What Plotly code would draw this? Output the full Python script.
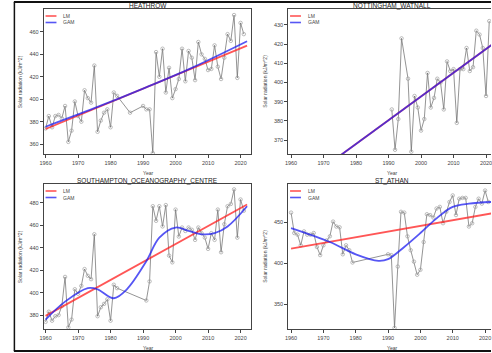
import plotly.graph_objects as go

W, H = 492, 353

# ---------------- data ----------------
heathrow_years = [1960, 1961, 1962, 1963, 1964, 1965, 1966, 1967, 1968, 1969, 1970, 1971, 1972, 1973,
                  1974, 1975, 1976, 1977, 1978, 1979, 1980, 1981, 1982, 1986, 1990, 1991, 1992, 1993,
                  1994, 1995, 1996, 1997, 1998, 1999, 2000, 2001, 2002, 2003, 2004, 2005, 2006, 2007,
                  2008, 2009, 2010, 2011, 2012, 2013, 2014, 2015, 2016, 2017, 2018, 2019, 2020, 2021]
heathrow_vals = [374, 385, 375, 385, 386, 383, 394, 362, 372, 398, 385, 380, 408, 401,
                 397, 430, 371, 381, 388, 391, 375, 406, 403, 388, 394, 391, 391, 352,
                 442, 420, 445, 406, 428, 401, 409, 418, 445, 416, 443, 437, 417, 451,
                 440, 436, 426, 427, 448, 429, 418, 437, 458, 452, 475, 419, 468, 458]
heathrow_lm_years = [1960, 2022]
heathrow_lm_vals = [373.5, 447.8]
heathrow_gam_years = [1960, 1975, 1990, 2005, 2022]
heathrow_gam_vals = [375.5, 392, 409.5, 428, 451.7]

nott_years = [1991, 1992, 1993, 1994, 1996, 1997, 1998, 1999, 2000, 2001, 2002, 2003, 2004, 2005,
              2006, 2007, 2008, 2009, 2010, 2011, 2012, 2013, 2014, 2015, 2016, 2017, 2018, 2019,
              2020, 2021]
nott_vals = [386, 365, 381, 423, 402, 364, 393, 387, 375, 381, 405, 387, 392, 402,
             400, 386, 411, 406, 407, 379, 407, 407, 418, 406, 408, 427, 425, 418,
             393, 432]
nott_lm_years = [1960, 2022]
nott_lm_vals = [343.3, 420.0]
nott_gam_years = [1960, 2022]
nott_gam_vals = [343.3, 420.0]

soton_years = [1960, 1961, 1962, 1963, 1964, 1965, 1966, 1967, 1968, 1969, 1970, 1971, 1972, 1973,
               1974, 1975, 1976, 1977, 1978, 1979, 1980, 1981, 1982, 1991, 1992, 1993, 1994, 1995,
               1996, 1997, 1998, 1999, 2000, 2001, 2002, 2003, 2004, 2005, 2006, 2007, 2008, 2009,
               2010, 2011, 2012, 2013, 2014, 2015, 2016, 2017, 2018, 2019, 2020, 2021]
soton_vals = [374, 383, 375, 379, 380, 388, 414, 369, 376, 403, 399, 406, 421, 415,
              412, 452, 379, 387, 390, 394, 375, 407, 404, 393, 410, 477, 464, 477,
              459, 478, 433, 427, 474, 450, 458, 455, 458, 456, 447, 458, 453, 449,
              439, 453, 447, 474, 436, 461, 477, 479, 492, 449, 483, 473]
soton_lm_years = [1960, 2022]
soton_lm_vals = [379.3, 478.5]
soton_gam_years = [1960, 1966, 1973, 1976, 1981, 1985, 1991, 1995, 2000, 2004, 2008, 2012, 2016, 2022]
soton_gam_vals = [376, 392, 404, 403, 395, 403, 428, 449, 458, 455, 452, 453, 459, 477]

athan_years = [1960, 1961, 1962, 1963, 1964, 1965, 1966, 1967, 1968, 1969, 1970, 1971, 1972, 1973,
               1974, 1975, 1976, 1977, 1978, 1979, 1990, 1991, 1992, 1993, 1994, 1995, 1996, 1997,
               1998, 1999, 2000, 2001, 2002, 2003, 2004, 2005, 2006, 2007, 2008, 2009, 2010, 2011,
               2012, 2013, 2014, 2015, 2016, 2017, 2018, 2019, 2020, 2021]
athan_vals = [462, 437, 435, 422, 439, 435, 435, 437, 420, 410, 422, 428, 433, 451,
              445, 444, 411, 422, 416, 401, 411, 410, 321, 396, 463, 462, 433, 416,
              402, 386, 392, 426, 460, 459, 456, 467, 469, 449, 463, 475, 483, 459,
              479, 480, 480, 445, 449, 469, 479, 473, 489, 475]
athan_lm_years = [1960, 2022]
athan_lm_vals = [418, 461]
athan_gam_years = [1960, 1972, 1980, 1987, 1990, 1995, 2000, 2005, 2010, 2015, 2022]
athan_gam_vals = [443, 426, 411, 403, 405, 420, 437, 455, 469, 473, 475]

x_ticks = [1960, 1970, 1980, 1990, 2000, 2010, 2020]

panels = [
    dict(title="HEATHROW", years=heathrow_years, vals=heathrow_vals,
         lm=(heathrow_lm_years, heathrow_lm_vals), gam=(heathrow_gam_years, heathrow_gam_vals),
         box=(40, 250, 9, 154), xr=[1959.39, 2023.35], yr=[351.2, 480.4],
         yt=[360, 380, 400, 420, 440, 460], full=True),
    dict(title="NOTTINGHAM_WATNALL", years=nott_years, vals=nott_vals,
         lm=(nott_lm_years, nott_lm_vals), gam=(nott_gam_years, nott_gam_vals),
         box=(287, 492, 9, 154), xr=[1959.09, 2021.53], yr=[362.8, 438.3],
         yt=[370, 380, 390, 400, 410, 420, 430], full=False),
    dict(title="SOUTHAMPTON_OCEANOGRAPHY_CENTRE", years=soton_years, vals=soton_vals,
         lm=(soton_lm_years, soton_lm_vals), gam=(soton_gam_years, soton_gam_vals),
         box=(40, 250, 184, 329), xr=[1959.39, 2023.35], yr=[367.6, 496.8],
         yt=[380, 400, 420, 440, 460, 480], full=True),
    dict(title="ST_ATHAN", years=athan_years, vals=athan_vals,
         lm=(athan_lm_years, athan_lm_vals), gam=(athan_gam_years, athan_gam_vals),
         box=(287, 492, 184, 329), xr=[1959.08, 2021.83], yr=[319.6, 497.0],
         yt=[350, 400, 450], full=False),
]

def px(x):
    return x / W

def py(y):
    return 1 - y / H

fig = go.Figure()
shapes = []
annotations = []
tickfont = dict(family="Liberation Sans, Arial", size=5.5, color="#444")

for i, p in enumerate(panels, start=1):
    xa = "x" if i == 1 else f"x{i}"
    ya = "y" if i == 1 else f"y{i}"
    x0, x1, y0, y1 = p["box"]
    fig.add_trace(go.Scatter(x=p["years"], y=p["vals"], mode="lines+markers", xaxis=xa, yaxis=ya,
                             line=dict(color="#666", width=0.7),
                             marker=dict(symbol="circle-open", size=3.5, color="#a0a0a0",
                                         line=dict(width=0.7)),
                             showlegend=False, cliponaxis=True))
    fig.add_trace(go.Scatter(x=p["lm"][0], y=p["lm"][1], mode="lines", xaxis=xa, yaxis=ya,
                             line=dict(color="rgba(255,30,30,0.75)", width=1.8), showlegend=False))
    fig.add_trace(go.Scatter(x=p["gam"][0], y=p["gam"][1], mode="lines", xaxis=xa, yaxis=ya,
                             line=dict(color="rgba(30,30,240,0.75)", width=1.8, shape="spline",
                                       smoothing=1.0),
                             showlegend=False))
    axkey_x = "xaxis" if i == 1 else f"xaxis{i}"
    axkey_y = "yaxis" if i == 1 else f"yaxis{i}"
    fig.update_layout(**{
        axkey_x: dict(domain=[px(x0), px(x1)], range=p["xr"], anchor=ya, tickvals=x_ticks,
                      showgrid=False, zeroline=False, showline=True, linecolor="#444",
                      linewidth=0.8, mirror=True, ticks="outside", ticklen=3, tickwidth=0.7,
                      tickcolor="#444", tickfont=tickfont, ticklabeloverflow="allow"),
        axkey_y: dict(domain=[py(y1), py(y0)], range=p["yr"], anchor=xa, tickvals=p["yt"],
                      showgrid=False, zeroline=False, showline=True, linecolor="#444",
                      linewidth=0.8, mirror=p["full"], ticks="outside", ticklen=3, tickwidth=0.7,
                      tickcolor="#444", tickfont=tickfont),
    })
    cx = (x0 + (x1 if p["full"] else x0 + 210)) / 2
    # title
    annotations.append(dict(text=p["title"], x=px(cx), y=py(y0 - 3), xref="paper", yref="paper",
                            showarrow=False, font=dict(family="Liberation Sans, Arial", size=6.5,
                                                       color="#222"), xanchor="center",
                            yanchor="middle"))
    # axis titles
    annotations.append(dict(text="Year", x=px(cx), y=py(y1 + 18.5), xref="paper", yref="paper",
                            showarrow=False, font=dict(family="Liberation Sans, Arial", size=5,
                                                       color="#444"), xanchor="center",
                            yanchor="middle"))
    annotations.append(dict(text="Solar radiation (kJ/m^2)", x=px(x0 - 24), y=py((y0 + y1) / 2),
                            xref="paper", yref="paper", showarrow=False, textangle=-90,
                            font=dict(family="Liberation Sans, Arial", size=5, color="#444"),
                            xanchor="center", yanchor="middle"))
    # legend
    for k, (lab, col) in enumerate([("LM", "rgba(255,30,30,0.75)"), ("GAM", "rgba(30,30,240,0.75)")]):
        ly = y0 + 7 + k * 6.5
        shapes.append(dict(type="line", xref="paper", yref="paper", x0=px(x0 + 2), x1=px(x0 + 13),
                           y0=py(ly), y1=py(ly), line=dict(color=col, width=1.6)))
        annotations.append(dict(text=lab, x=px(x0 + 18), y=py(ly), xref="paper", yref="paper",
                                showarrow=False, xanchor="left", yanchor="middle",
                                font=dict(family="Liberation Sans, Arial", size=5, color="#444")))

# outer frame (from the screenshot)
shapes.append(dict(type="line", xref="paper", yref="paper", x0=px(10), x1=1, y0=py(2), y1=py(2),
                   line=dict(color="#111", width=2)))
shapes.append(dict(type="line", xref="paper", yref="paper", x0=px(10.5), x1=px(10.5), y0=py(2),
                   y1=py(351), line=dict(color="#111", width=1.5)))
shapes.append(dict(type="line", xref="paper", yref="paper", x0=px(10), x1=1, y0=py(351), y1=py(351),
                   line=dict(color="#111", width=2)))

fig.update_layout(width=W, height=H, margin=dict(l=0, r=0, t=0, b=0), paper_bgcolor="white",
                  plot_bgcolor="white", showlegend=False, shapes=shapes, annotations=annotations)

fig.write_html("out.html")
